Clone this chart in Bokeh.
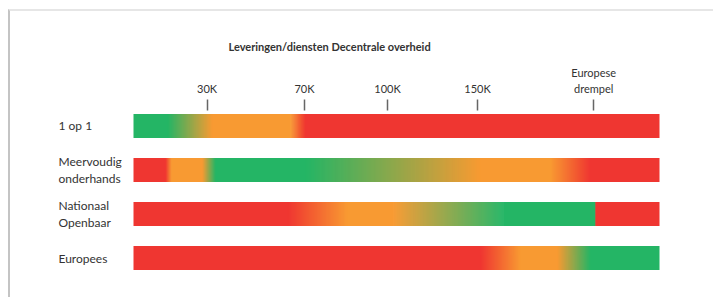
from bokeh.plotting import figure
from bokeh.models import Range1d, FixedTicker, ColumnDataSource
from bokeh.embed import file_html
from bokeh.resources import INLINE
from bokeh.core.properties import value

# ---------------- data ----------------
title_text = "Leveringen/diensten Decentrale overheid"
rows = ["1 op 1", "Meervoudig\nonderhands", "Nationaal\nOpenbaar", "Europees"]

# threshold ticks, positions on a 0-100 scale along the bar
tick_positions = [14.0, 32.5, 48.3, 65.4, 87.5]
tick_labels = ["30K", "70K", "100K", "150K", "Europese\ndrempel"]

# gradient stops per procedure (position 0-100 along the bar, level at that position)
stops_1op1_pos = [0, 6.5, 15.0, 29.8, 32.7, 100]
stops_1op1_lvl = ["groen", "groen", "oranje", "oranje", "rood", "rood"]

stops_meerv_pos = [0, 6.1, 7.2, 13.1, 15.6, 32.7, 66.0, 79.3, 86.9, 100]
stops_meerv_lvl = ["rood", "rood", "oranje", "oranje", "groen", "groen", "oranje", "oranje", "rood", "rood"]

stops_nat_pos = [0, 29.3, 40.7, 49.4, 70.3, 87.8, 87.8, 100]
stops_nat_lvl = ["rood", "rood", "oranje", "oranje", "groen", "groen", "rood", "rood"]

stops_eu_pos = [0, 66.0, 73.6, 80.6, 86.9, 100]
stops_eu_lvl = ["rood", "rood", "oranje", "oranje", "groen", "groen"]

all_stops = [
    (stops_1op1_pos, stops_1op1_lvl),
    (stops_meerv_pos, stops_meerv_lvl),
    (stops_nat_pos, stops_nat_lvl),
    (stops_eu_pos, stops_eu_lvl),
]

# ---------------- style ----------------
LEVEL_RGB = {"rood": (239, 54, 49), "oranje": (248, 154, 50), "groen": (36, 181, 101)}
TEXT = "#333333"
FONT = "Lato"
BAR_H = 24 / 44.0
PX = 5.26          # pixels per unit (bar = 526 px for 100 units)
STEP = 1.0 / PX    # one pixel per gradient slice


def hexc(c):
    return "#%02x%02x%02x" % tuple(int(round(v)) for v in c)


def mix(a, b, t):
    return tuple(a[k] + (b[k] - a[k]) * t for k in range(3))


left, right, top, bottom, color = [], [], [], [], []
for r, (pos, lvl) in enumerate(all_stops):
    for i in range(len(pos) - 1):
        x0, x1 = pos[i], pos[i + 1]
        if x1 <= x0:
            continue
        c0, c1 = LEVEL_RGB[lvl[i]], LEVEL_RGB[lvl[i + 1]]
        if c0 == c1:
            pieces = [(x0, x1, c0)]
        else:
            n = max(1, int(round((x1 - x0) / STEP)))
            w = (x1 - x0) / n
            pieces = []
            for k in range(n):
                a = x0 + k * w
                pieces.append((a, a + w, mix(c0, c1, (k + 0.5) / n)))
        last_end = pos[-1]
        for a, b, c in pieces:
            left.append(a)
            right.append(min(b + STEP * 0.6, last_end))
            top.append(r - BAR_H / 2)
            bottom.append(r + BAR_H / 2)
            color.append(hexc(c))

src = ColumnDataSource(dict(left=left, right=right, top=top, bottom=bottom, color=color))

x_start = -123 / PX
x_end = 582 / PX

p = figure(
    width=705, height=288,
    output_backend="svg", toolbar_location=None,
    x_range=Range1d(x_start, x_end),
    y_range=Range1d(3.943, -0.352),
    x_axis_location="above", y_axis_location=None,
    min_border_left=0, min_border_right=0, min_border_bottom=0, min_border_top=99,
)
p.styles = {
    "border-top": "2px solid #e6e6e6",
    "border-left": "2px solid #c4c4c4",
    "margin-left": "8px",
    "margin-top": "9px",
}
p.outline_line_color = None
p.grid.visible = False
p.background_fill_color = "white"
p.border_fill_color = "white"

p.title.text = title_text
p.title.align = "left"
p.title.offset = 218
p.title.text_font = FONT
p.title.text_font_size = "11px"
p.title.text_font_style = "bold"
p.title.text_color = TEXT
p.title.standoff = 19

ax = p.xaxis[0]
ax.ticker = FixedTicker(ticks=tick_positions)
ax.major_label_overrides = {t: l for t, l in zip(tick_positions, tick_labels)}
ax.axis_line_color = None
ax.major_tick_in = 0
ax.major_tick_out = 11
ax.major_tick_line_color = "#666666"
ax.major_tick_line_width = 1.5
ax.minor_tick_line_color = None
ax.major_label_standoff = 5
ax.major_label_text_font = FONT
ax.major_label_text_font_size = "11px"
ax.major_label_text_color = TEXT

p.quad(left="left", right="right", top="top", bottom="bottom", source=src,
       fill_color="color", line_color=None)

p.text(x=[-75 / PX] * len(rows), y=list(range(len(rows))), text=rows,
       text_align="left", text_baseline="middle",
       text_font=value(FONT), text_font_size="12px", text_color=TEXT,
       text_line_height=1.1)

open("out.html", "w").write(file_html(p, INLINE))
